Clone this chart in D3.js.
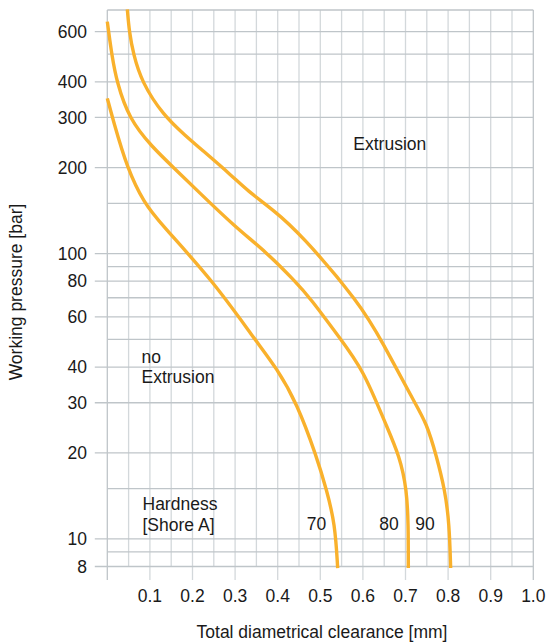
<!DOCTYPE html>
<html>
<head>
<meta charset="utf-8">
<script src="https://cdn.jsdelivr.net/npm/d3@7"></script>
<style>
  html, body { margin: 0; padding: 0; background: #fff; }
  svg { display: block; font-family: "Liberation Sans", Arial, Helvetica, sans-serif; }
</style>
</head>
<body>
<svg id="chart" width="549" height="643"></svg>
<script>
// ---- data (clearance mm, pressure bar) ----
const hardness = ["70", "80", "90"];
const curve70 = [[0,350],[0.013,296],[0.047,198],[0.087,150],[0.124,128],[0.2488,80],[0.347,49.8],[0.398,39.6],[0.445,29.9],[0.4915,19.4],[0.515,14.8],[0.5345,11.3],[0.5408,7.9]];
const curve80 = [[0,650],[0.0033,598],[0.0103,501],[0.0221,399],[0.0516,296],[0.1042,237],[0.1589,198],[0.2098,167],[0.2998,124],[0.374,101],[0.4406,80],[0.4758,70],[0.546,50.5],[0.601,39.1],[0.652,25.5],[0.687,19.4],[0.703,14.8],[0.7066,11.3],[0.7066,7.9]];
const curve90 = [[0.047,718],[0.0516,598],[0.061,501],[0.0808,399],[0.1307,306],[0.186,257],[0.2176,234],[0.295,186],[0.327,167],[0.39,142],[0.452,118],[0.5932,66.9],[0.647,48.6],[0.7176,30.7],[0.75,25.4],[0.773,19.4],[0.7927,14.8],[0.8028,11.3],[0.806,7.9]];
const curves = [curve70, curve80, curve90];

const xMajorTicks = [0.1,0.2,0.3,0.4,0.5,0.6,0.7,0.8,0.9,1.0];
const xMinorTicks = [0.05,0.15,0.25,0.35,0.45,0.55,0.65,0.75,0.85,0.95];
const yMajorTicks = [8,10,20,30,40,60,80,100,200,300,400,600];
const yMinorTicks = [9,15,50,70,90,150,500];
const yTopValue = 714;

const svg = d3.select("#chart");
const x = d3.scaleLinear().domain([0, 1]).range([107.3, 533.3]);
const y = d3.scaleLog().domain([8, yTopValue]).range([566.5, 10]);

const gridH = "#bfc5c9", gridV = "#d3d8db";
const yBottom = y(8), yTop = y(yTopValue);

// vertical grid
const g = svg.append("g");
g.selectAll(".vmin").data(xMinorTicks).join("line")
  .attr("x1", d => x(d)).attr("x2", d => x(d))
  .attr("y1", yTop).attr("y2", yBottom)
  .attr("stroke", gridV).attr("stroke-width", 1.3);
g.selectAll(".vmaj").data([0].concat(xMajorTicks)).join("line")
  .attr("x1", d => x(d)).attr("x2", d => x(d))
  .attr("y1", yTop).attr("y2", yBottom + 13.5)
  .attr("stroke", d => (d === 0 || d === 1) ? gridH : gridV).attr("stroke-width", 1.3);

// horizontal grid
g.selectAll(".hmin").data(yMinorTicks).join("line")
  .attr("x1", x(0)).attr("x2", x(1))
  .attr("y1", d => y(d)).attr("y2", d => y(d))
  .attr("stroke", gridH).attr("stroke-width", 1.3);
g.selectAll(".hmaj").data(yMajorTicks).join("line")
  .attr("x1", x(0) - 12.5).attr("x2", x(1))
  .attr("y1", d => y(d)).attr("y2", d => y(d))
  .attr("stroke", gridH).attr("stroke-width", 1.3);
// top border
g.append("line").attr("x1", x(0)).attr("x2", x(1))
  .attr("y1", yTop).attr("y2", yTop).attr("stroke", gridH).attr("stroke-width", 1.3);

// tick labels
const fs = "17.5px", tc = "#1a1a1a";
svg.append("g").selectAll("text").data(yMajorTicks).join("text")
  .attr("x", 87).attr("y", d => y(d)).attr("dy", "0.35em")
  .attr("text-anchor", "end").attr("font-size", fs).attr("fill", tc)
  .text(d => d);
svg.append("g").selectAll("text").data(xMajorTicks).join("text")
  .attr("x", d => x(d)).attr("y", 601.5)
  .attr("text-anchor", "middle").attr("font-size", fs).attr("fill", tc)
  .text(d => d.toFixed(1));

// axis titles
svg.append("text").attr("x", 322).attr("y", 638).attr("text-anchor", "middle")
  .attr("font-size", fs).attr("fill", tc).text("Total diametrical clearance [mm]");
svg.append("text").attr("transform", "translate(22,292) rotate(-90)")
  .attr("text-anchor", "middle").attr("font-size", fs).attr("fill", tc)
  .text("Working pressure [bar]");

// curves
const line = d3.line().x(d => x(d[0])).y(d => y(d[1])).curve(d3.curveBasis);
svg.append("g").selectAll("path").data(curves).join("path")
  .attr("d", line).attr("fill", "none")
  .attr("stroke", "#f9b12c").attr("stroke-width", 3.4)
  .attr("stroke-linecap", "butt");

// annotations
const ann = [
  {t: "Extrusion", x: 353.3, y: 150},
  {t: "no", x: 141.5, y: 363},
  {t: "Extrusion", x: 141.5, y: 383.3},
  {t: "Hardness", x: 142.5, y: 510},
  {t: "[Shore A]", x: 142.5, y: 530.5},
  {t: hardness[0], x: 306.7, y: 529.5},
  {t: hardness[1], x: 379.3, y: 529.5},
  {t: hardness[2], x: 415.3, y: 529.5}
];
svg.append("g").selectAll("text").data(ann).join("text")
  .attr("x", d => d.x).attr("y", d => d.y)
  .attr("font-size", fs).attr("fill", tc).text(d => d.t);
</script>
</body>
</html>
